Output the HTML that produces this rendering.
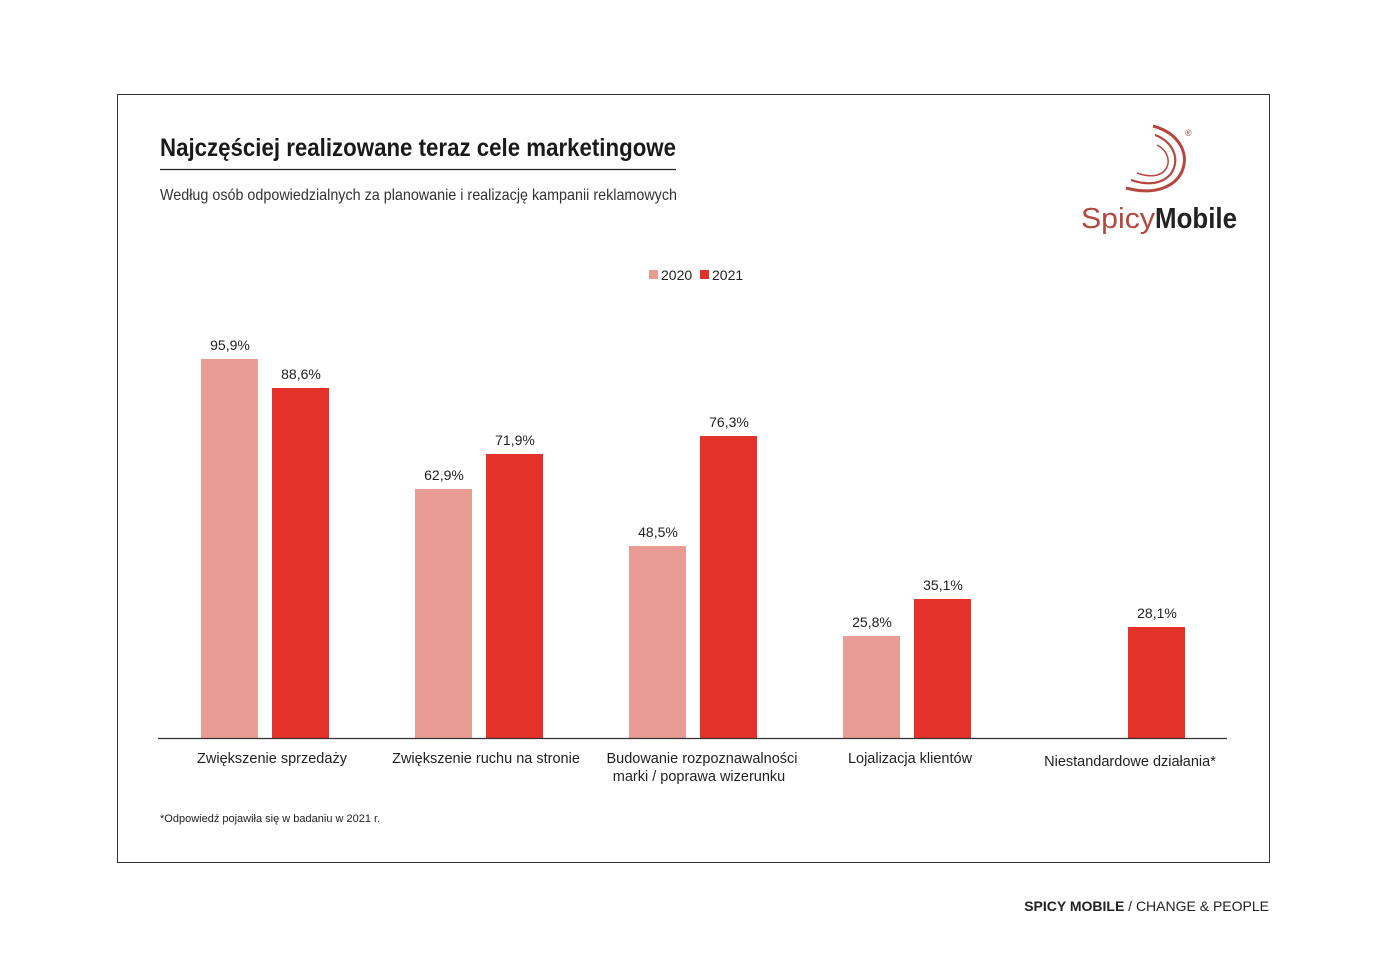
<!DOCTYPE html>
<html><head><meta charset="utf-8"><style>
body{margin:0;background:#fff;}
svg{display:block;font-family:"Liberation Sans",Arial,sans-serif;}
.n{font-family:"Liberation Sans Narrow","Liberation Sans",sans-serif;}
</style></head><body>
<svg width="1386" height="980" viewBox="0 0 1386 980">
<rect x="117.5" y="94.5" width="1152" height="768" fill="none" stroke="#333" stroke-width="1"/>
<text x="160" y="156" class="n" font-size="25" font-weight="bold" fill="#1a1a1a" textLength="516" lengthAdjust="spacingAndGlyphs">Najczęściej realizowane teraz cele marketingowe</text>
<line x1="160" y1="169.5" x2="676" y2="169.5" stroke="#222" stroke-width="1.2"/>
<text x="160" y="200" class="n" font-size="16" fill="#333" textLength="517" lengthAdjust="spacingAndGlyphs">Według osób odpowiedzialnych za planowanie i realizację kampanii reklamowych</text>
<!-- logo -->
<g fill="none" stroke="#b5473e">
<path d="M1153 126 C1205 140 1190 205 1126 188" stroke-width="3"/>
<path d="M1155 135 C1190 148 1178 196 1131 180" stroke-width="2.2"/>
<path d="M1157 145 C1177 155 1170 185 1137 173" stroke-width="1.5"/>
</g>
<text x="1185" y="136" font-size="9" fill="#b5473e">®</text>
<text x="1081" y="228" font-size="29" fill="#b5473e" textLength="74" lengthAdjust="spacingAndGlyphs">Spicy</text>
<text x="1155" y="228" font-size="29" font-weight="bold" fill="#222" textLength="82" lengthAdjust="spacingAndGlyphs">Mobile</text>
<!-- legend -->
<rect x="649" y="270" width="9" height="9" fill="#e89c93"/>
<text x="661" y="280" font-size="14" fill="#222">2020</text>
<rect x="700" y="270" width="9" height="9" fill="#e4312a"/>
<text x="712" y="280" font-size="14" fill="#222">2021</text>
<!-- bars -->
<g fill="#e89c93">
<rect x="201" y="359" width="57" height="379"/>
<rect x="415" y="489" width="57" height="249"/>
<rect x="629" y="546" width="57" height="192"/>
<rect x="843" y="636" width="57" height="102"/>
</g>
<g fill="#e4312a">
<rect x="272" y="388" width="57" height="350"/>
<rect x="486" y="454" width="57" height="284"/>
<rect x="700" y="436" width="57" height="302"/>
<rect x="914" y="599" width="57" height="139"/>
<rect x="1128" y="627" width="57" height="111"/>
</g>
<g font-size="14" fill="#222" text-anchor="middle">
<text x="230" y="350">95,9%</text>
<text x="301" y="379">88,6%</text>
<text x="444" y="480">62,9%</text>
<text x="515" y="445">71,9%</text>
<text x="658" y="537">48,5%</text>
<text x="729" y="427">76,3%</text>
<text x="872" y="627">25,8%</text>
<text x="943" y="590">35,1%</text>
<text x="1157" y="618">28,1%</text>
</g>
<line x1="158" y1="738.5" x2="1227" y2="738.5" stroke="#333" stroke-width="1.2"/>
<g font-size="14.5" fill="#222" text-anchor="middle">
<text x="272" y="763">Zwiększenie sprzedaży</text>
<text x="486" y="763">Zwiększenie ruchu na stronie</text>
<text x="702" y="763">Budowanie rozpoznawalności</text>
<text x="699" y="781">marki / poprawa wizerunku</text>
<text x="910" y="763">Lojalizacja klientów</text>
<text x="1130" y="766">Niestandardowe działania*</text>
</g>
<text x="160" y="822" font-size="11" fill="#222">*Odpowiedź pojawiła się w badaniu w 2021 r.</text>
<text x="1269" y="911" font-size="14" fill="#222" text-anchor="end"><tspan font-weight="bold">SPICY MOBILE</tspan> / CHANGE &amp; PEOPLE</text>
</svg>
</body></html>
